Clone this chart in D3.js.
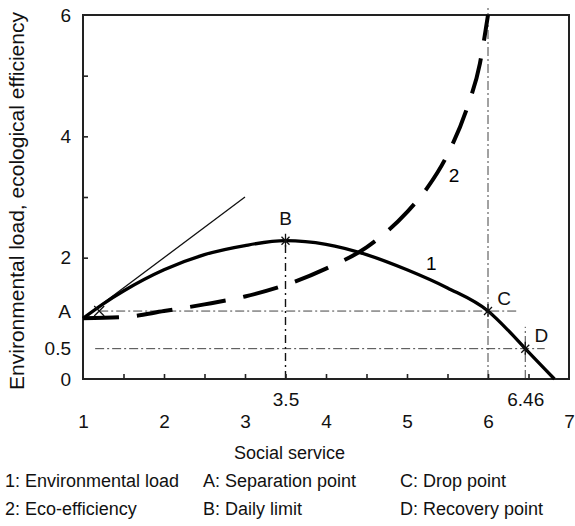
<!DOCTYPE html>
<html>
<head>
<meta charset="utf-8">
<script src="https://cdn.jsdelivr.net/npm/d3@7"></script>
<style>
  html, body { margin: 0; padding: 0; background: #fff; }
  svg { display: block; font-family: "Liberation Sans", Arial, sans-serif; }
</style>
</head>
<body>
<svg id="chart" width="575" height="526"></svg>
<script>
// Curve 1: environmental load vs social service
const loadX = [1.0, 1.25, 1.5, 2.0, 2.5, 3.0, 3.5, 4.0, 4.5, 5.0, 5.5, 6.0, 6.25, 6.46, 6.82];
const loadY = [1.0, 1.24, 1.45, 1.8, 2.05, 2.2, 2.28, 2.22, 2.05, 1.8, 1.5, 1.12, 0.8, 0.5, 0.0];

// Curve 2: eco-efficiency vs social service
const ecoX = [1.0, 1.5, 2.0, 2.5, 3.0, 3.5, 4.0, 4.5, 5.0, 5.25, 5.5, 5.75, 5.9, 6.0];
const ecoY = [1.0, 1.02, 1.12, 1.23, 1.36, 1.55, 1.82, 2.17, 2.75, 3.15, 3.7, 4.5, 5.2, 6.0];

// Tangent at the separation point
const tangentX = [1, 3];
const tangentY = [1, 3];

// Characteristic points
const pointNames = ["A", "B", "C", "D"];
const pointX = [1.2, 3.5, 6.0, 6.46];
const pointY = [1.12, 2.28, 1.12, 0.5];

// Axis ticks and labels
const xTickLabels = [1, 2, 3, 4, 5, 6, 7];
const xMarkLabels = [3.5, 6.46];
const xMinorTicks = [1.5, 2, 2.5, 3, 3.5, 4, 4.5, 5, 5.5, 6, 6.5];
const yTickValues = [0, 0.5, 1.12, 2, 4, 6];
const yTickLabels = ["0", "0.5", "A", "2", "4", "6"];
const yMinorTicks = [1, 2, 3, 4, 5];

// Legend entries (two rows, three columns)
const legendCol1 = ["1: Environmental load", "2: Eco-efficiency"];
const legendCol2 = ["A: Separation point", "B: Daily limit"];
const legendCol3 = ["C: Drop point", "D: Recovery point"];

const svg = d3.select("#chart");
const plotLeft = 83, plotTop = 15, plotRight = 569, plotBottom = 379;

const x = d3.scaleLinear().domain([1, 7]).range([plotLeft, plotRight]);
const y = d3.scaleLinear().domain([0, 6]).range([plotBottom, plotTop]);

const dashDot = "9 3 2 3";
const guideColor = "#444";

// Reference (dash-dot) guide lines
const guides = svg.append("g")
  .attr("fill", "none").attr("stroke", guideColor)
  .attr("stroke-width", 1).attr("stroke-dasharray", dashDot);
// horizontal through A and C
guides.append("line")
  .attr("x1", x(pointX[0])).attr("x2", x(6.35))
  .attr("y1", y(pointY[2])).attr("y2", y(pointY[2]));
// horizontal through D
guides.append("line")
  .attr("x1", x(1.15)).attr("x2", x(6.7))
  .attr("y1", y(pointY[3])).attr("y2", y(pointY[3]));
// vertical at B
guides.append("line")
  .attr("x1", x(pointX[1])).attr("x2", x(pointX[1]))
  .attr("y1", y(0)).attr("y2", y(pointY[1]))
  .attr("stroke", "#111").attr("stroke-width", 1.4)
  .attr("stroke-dasharray", "8 4 2 4");
// vertical at C (runs through the top)
guides.append("line")
  .attr("x1", x(pointX[2])).attr("x2", x(pointX[2]))
  .attr("y1", y(0)).attr("y2", y(6.12));
// vertical at D
guides.append("line")
  .attr("x1", x(pointX[3])).attr("x2", x(pointX[3]))
  .attr("y1", y(0)).attr("y2", y(0.86));

// Frame
svg.append("rect")
  .attr("x", plotLeft).attr("y", plotTop)
  .attr("width", plotRight - plotLeft).attr("height", plotBottom - plotTop)
  .attr("fill", "none").attr("stroke", "#222").attr("stroke-width", 2);

// Inner tick marks
svg.append("g")
  .attr("transform", `translate(0,${plotBottom})`)
  .call(d3.axisBottom(x).tickValues(xMinorTicks).tickSizeInner(-5).tickSizeOuter(0).tickFormat(""))
  .call(g => g.select(".domain").remove())
  .call(g => g.selectAll("line").attr("stroke", "#222").attr("stroke-width", 1.6));
svg.append("g")
  .attr("transform", `translate(${plotLeft},0)`)
  .call(d3.axisLeft(y).tickValues(yMinorTicks).tickSizeInner(-5).tickSizeOuter(0).tickFormat(""))
  .call(g => g.select(".domain").remove())
  .call(g => g.selectAll("line").attr("stroke", "#222").attr("stroke-width", 1.6));

// Tick labels
const xLab = svg.append("g")
  .attr("transform", `translate(0,${plotBottom})`)
  .call(d3.axisBottom(x).tickValues(xTickLabels).tickSize(0).tickPadding(36).tickFormat(d3.format("d")));
const xMark = svg.append("g")
  .attr("transform", `translate(0,${plotBottom})`)
  .call(d3.axisBottom(x).tickValues(xMarkLabels).tickSize(0).tickPadding(14).tickFormat(d => String(d)));
const yLab = svg.append("g")
  .attr("transform", `translate(${plotLeft},0)`)
  .call(d3.axisLeft(y).tickValues(yTickValues).tickSize(0).tickPadding(12)
    .tickFormat((d, i) => yTickLabels[i]));
[xLab, xMark, yLab].forEach(g => {
  g.select(".domain").remove();
  g.selectAll("text").attr("font-size", 19).attr("fill", "#111")
    .attr("font-family", "Liberation Sans, Arial, sans-serif");
});

// Axis titles
svg.append("text")
  .attr("x", x(3.55)).attr("y", 459)
  .attr("text-anchor", "middle").attr("font-size", 18).attr("fill", "#111")
  .text("Social service");
svg.append("text")
  .attr("transform", `translate(24,${(plotTop + plotBottom) / 2 + 4}) rotate(-90)`)
  .attr("text-anchor", "middle").attr("font-size", 21).attr("fill", "#111")
  .text("Environmental load, ecological efficiency");

// Tangent line
svg.append("line")
  .attr("x1", x(tangentX[0])).attr("y1", y(tangentY[0]))
  .attr("x2", x(tangentX[1])).attr("y2", y(tangentY[1]))
  .attr("stroke", "#111").attr("stroke-width", 1.3);

const line = d3.line().curve(d3.curveMonotoneX);

// Curve 2: eco-efficiency (dashed)
svg.append("path")
  .attr("d", line(ecoX.map((v, i) => [x(v), y(ecoY[i])])))
  .attr("fill", "none").attr("stroke", "#000").attr("stroke-width", 4)
  .attr("stroke-dasharray", "36 18");

// Curve 1: environmental load (solid)
svg.append("path")
  .attr("d", line(loadX.map((v, i) => [x(v), y(loadY[i])])))
  .attr("fill", "none").attr("stroke", "#000").attr("stroke-width", 3.3);

// Curve numbers
svg.append("text").attr("x", x(5.3)).attr("y", y(1.9)).attr("dy", "0.35em")
  .attr("text-anchor", "middle").attr("font-size", 19).text("1");
svg.append("text").attr("x", x(5.58)).attr("y", y(3.35)).attr("dy", "0.35em")
  .attr("text-anchor", "middle").attr("font-size", 19).text("2");

// Point markers
const markers = svg.append("g").attr("stroke", "#111").attr("stroke-width", 1.3).attr("fill", "none");
pointNames.forEach((name, i) => {
  const cx = x(pointX[i]), cy = y(pointY[i]);
  const g = markers.append("g").attr("transform", `translate(${cx},${cy})`);
  if (name === "A") {
    g.append("path").attr("d", "M-5,-5L5,5M5,-5L-5,5");
  } else {
    g.append("path").attr("d", "M-4,-4L4,4M4,-4L-4,4M0,-7L0,6");
  }
});

// Point letters (A is on the value axis)
const letterOffset = { B: [0, -22], C: [16, -13], D: [16, -13] };
pointNames.filter(n => n !== "A").forEach(name => {
  const i = pointNames.indexOf(name);
  const [dx, dy] = letterOffset[name];
  svg.append("text")
    .attr("x", x(pointX[i]) + dx).attr("y", y(pointY[i]) + dy).attr("dy", "0.35em")
    .attr("text-anchor", "middle").attr("font-size", 19).attr("fill", "#111")
    .text(name);
});

// Legend
const legendCols = [legendCol1, legendCol2, legendCol3];
const colX = [5, 203, 400];
const rowY = [487, 515];
legendCols.forEach((col, c) => {
  col.forEach((t, r) => {
    svg.append("text")
      .attr("x", colX[c]).attr("y", rowY[r])
      .attr("font-size", 18).attr("fill", "#111")
      .text(t);
  });
});
</script>
</body>
</html>
